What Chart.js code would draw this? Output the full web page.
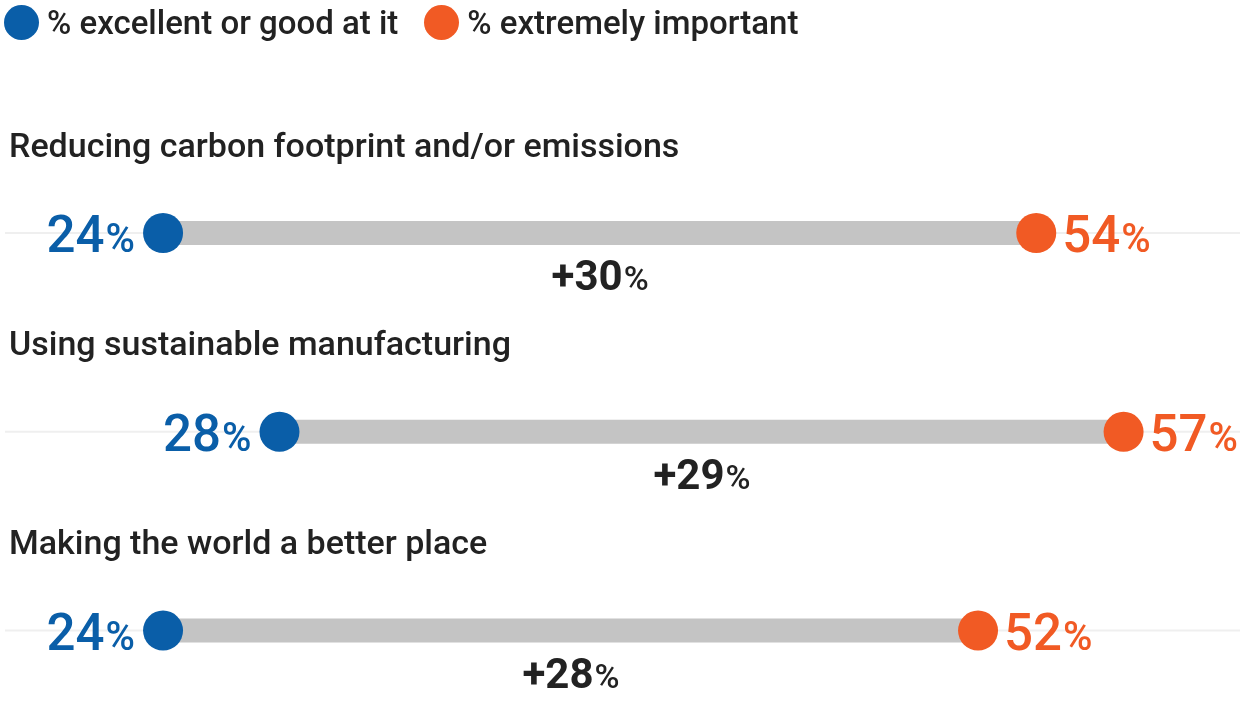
<!DOCTYPE html>
<html>
<head>
<meta charset="utf-8">
<script src="https://cdn.jsdelivr.net/npm/chart.js@4"></script>
<style>
  body { margin: 0; background: #fff; font-family: Roboto, "Open Sans", sans-serif; overflow: hidden; }
  #legend { position: absolute; left: 4px; top: 3px; display: flex; align-items: center; font-size: 33px; font-weight: 500; color: #222; }
  .dot { display: inline-block; width: 35px; height: 35px; border-radius: 50%; margin-right: 8px; }
  .item { display: flex; align-items: center; margin-right: 26px; }
  #wrap { position: absolute; left: 0; top: 0; width: 1244px; height: 726px; }
</style>
</head>
<body>
<div id="wrap"><canvas id="c"></canvas></div>
<div id="legend">
  <span class="item"><span class="dot" style="background:#0a5ea8"></span>% excellent or good at it</span>
  <span class="item"><span class="dot" style="background:#f15a24"></span>% extremely important</span>
</div>
<script>
// --- DATA ---
const categories = ['Reducing carbon footprint and/or emissions', 'Using sustainable manufacturing', 'Making the world a better place'];
const goodAt = [24, 28, 24];
const important = [54, 57, 52];
const gaps = ['+30', '+29', '+28'];

const BLUE = '#0a5ea8', ORANGE = '#f15a24', GREY = '#c4c4c4';

// --- DATASETS ---
const bars = categories.map((c, i) => ({
  type: 'line',
  data: [{ x: goodAt[i], y: i }, { x: important[i], y: i }],
  borderColor: GREY, borderWidth: 24, pointRadius: 0, borderCapStyle: 'butt', order: 3
}));
const blueDots = { type: 'scatter', data: goodAt.map((v, i) => ({ x: v, y: i })), backgroundColor: BLUE, pointRadius: 20, borderWidth: 0, order: 1 };
const orangeDots = { type: 'scatter', data: important.map((v, i) => ({ x: v, y: i })), backgroundColor: ORANGE, pointRadius: 20, borderWidth: 0, order: 1 };

// --- TEXT PLUGIN ---
function pctText(ctx, num, x, y, align, color) {
  const big = '500 51px Roboto', small = '500 40px Roboto';
  ctx.font = big; const w1 = ctx.measureText(num).width;
  ctx.font = small; const w2 = ctx.measureText('%').width;
  let start = align === 'right' ? x - w1 - w2 - 1 : x;
  ctx.fillStyle = color; ctx.textAlign = 'left'; ctx.textBaseline = 'alphabetic';
  ctx.font = big; ctx.fillText(num, start, y);
  ctx.font = small; ctx.fillText('%', start + w1 + 1, y);
}

const labels = {
  id: 'labels',
  beforeDatasetsDraw(chart) {
    const { ctx, scales: { y } } = chart;
    ctx.save();
    ctx.strokeStyle = '#efefef'; ctx.lineWidth = 2;
    categories.forEach((c, i) => {
      const py = y.getPixelForValue(i);
      ctx.beginPath(); ctx.moveTo(5, py); ctx.lineTo(1240, py); ctx.stroke();
    });
    ctx.restore();
  },
  afterDatasetsDraw(chart) {
    const { ctx, scales: { x, y } } = chart;
    ctx.save();
    categories.forEach((c, i) => {
      const py = y.getPixelForValue(i);
      const xa = x.getPixelForValue(goodAt[i]), xb = x.getPixelForValue(important[i]);
      ctx.fillStyle = '#222'; ctx.font = '500 34px Roboto'; ctx.textAlign = 'left'; ctx.textBaseline = 'middle';
      ctx.fillText(c, 9, py - 85);
      pctText(ctx, String(goodAt[i]), xa - 28, py + 19, 'right', BLUE);
      pctText(ctx, String(important[i]), xb + 26, py + 19, 'left', ORANGE);
      // gap label
      const mid = (xa + xb) / 2;
      ctx.font = 'bold 42px Roboto'; const w1 = ctx.measureText(gaps[i]).width;
      ctx.font = '500 34px Roboto'; const w2 = ctx.measureText('%').width;
      const s = mid - (w1 + w2) / 2;
      ctx.fillStyle = '#222'; ctx.textBaseline = 'alphabetic';
      ctx.font = 'bold 42px Roboto'; ctx.fillText(gaps[i], s, py + 57);
      ctx.font = '500 34px Roboto'; ctx.fillText('%', s + w1 + 1, py + 57);
    });
    ctx.restore();
  }
};

new Chart(document.getElementById('c'), {
  data: { datasets: [blueDots, orangeDots, ...bars] },
  options: {
    responsive: true, maintainAspectRatio: false, animation: false,
    layout: { autoPadding: false, padding: { left: 5, right: 4, top: 70, bottom: 0 } },
    plugins: { legend: { display: false }, tooltip: { enabled: false } },
    scales: {
      x: { type: 'linear', min: 18.57, max: 61, display: false },
      y: { type: 'linear', min: -0.82, max: 2.48, reverse: true, display: false }
    }
  },
  plugins: [labels]
});
</script>
</body>
</html>
